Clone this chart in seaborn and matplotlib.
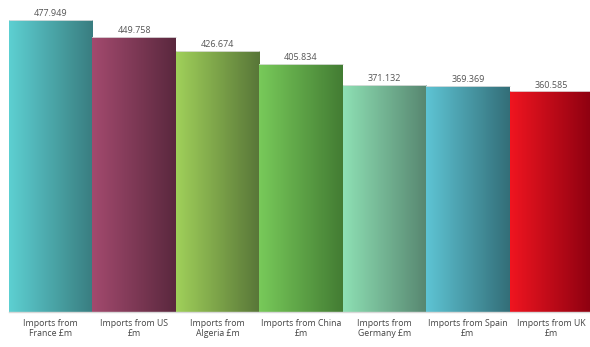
import numpy as np
import pandas as pd
import matplotlib
matplotlib.use("Agg")
import matplotlib.pyplot as plt
import seaborn as sns
from matplotlib.colors import LinearSegmentedColormap

# dados
paises = ['Imports from\nFrance £m', 'Imports from US\n£m', 'Imports from\nAlgeria £m',
          'Imports from China\n£m', 'Imports from\nGermany £m', 'Imports from Spain\n£m',
          'Imports from UK\n£m']
valores = [477.949, 449.758, 426.674, 405.834, 371.132, 369.369, 360.585]
rotulos = ['477.949', '449.758', '426.674', '405.834', '371.132', '369.369', '360.585']

# cores (claro -> escuro) de cada barra
cor_esq = ['#5dd0d2', '#a34a6e', '#a0d05a', '#78ca5a', '#8ee0b4', '#5ec4d4', '#f01520']
cor_dir = ['#397d80', '#5a283e', '#587638', '#437c33', '#578670', '#336e78', '#8a0010']

df = pd.DataFrame({'pais': paises, 'valor': valores})

sns.set_style('white')
plt.rcParams['font.family'] = ['Open Sans', 'DejaVu Sans']

fig = plt.figure(figsize=(5.9, 3.47), dpi=100)
ax = fig.add_axes([9 / 590, 35 / 347, 584 / 590, 312 / 347])

sns.barplot(data=df, x='pais', y='valor', width=1.0, color='white',
            edgecolor='none', ax=ax)

grad = np.linspace(0, 1, 256).reshape(1, -1)
for i, p in enumerate(ax.patches):
    x0, w, h = p.get_x(), p.get_width(), p.get_height()
    cmap = LinearSegmentedColormap.from_list('g%d' % i, [cor_esq[i], cor_dir[i]])
    im = ax.imshow(grad, cmap=cmap, aspect='auto', extent=[x0, x0 + w, 0, h],
                   zorder=2, interpolation='bicubic')
    im.set_clip_path(p)
    ax.plot([x0, x0 + w], [h, h], color='#e0e0e0', lw=0.6, zorder=3)
    ax.text(x0 + w / 2, h + 3, rotulos[i], ha='center', va='bottom',
            fontsize=6.5, color='#555555')

ax.set_xlim(-0.5, len(paises) - 0.5)
ax.set_ylim(0, 510)
ax.set_xlabel('')
ax.set_ylabel('')
ax.set_yticks([])
ax.tick_params(axis='x', length=0, labelsize=6.3, labelcolor='#444444', pad=5)
sns.despine(ax=ax, left=True, top=True, right=True)
ax.spines['bottom'].set_color('#d8d8d8')
ax.spines['bottom'].set_linewidth(1.0)

fig.savefig('out.png', dpi=100)
